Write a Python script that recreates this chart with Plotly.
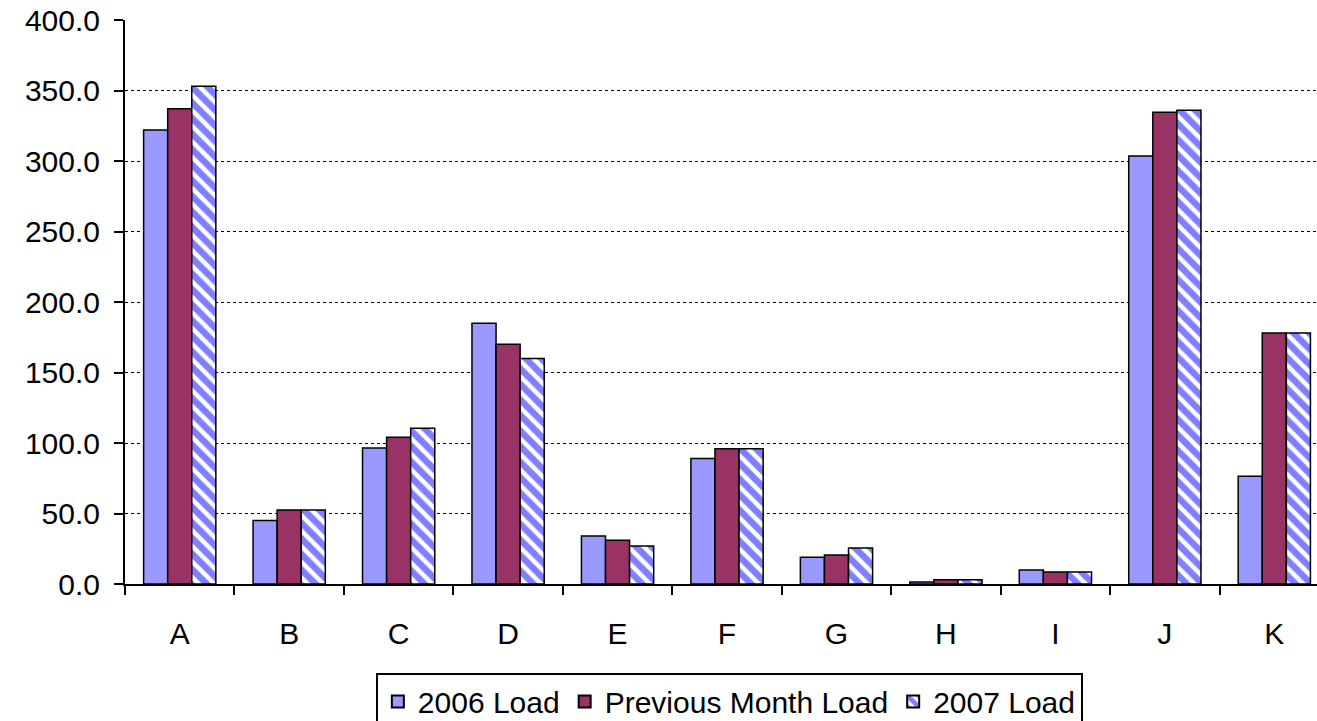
import plotly.graph_objects as go

categories = ["A", "B", "C", "D", "E", "F", "G", "H", "I", "J", "K"]
load_2006 = [322, 45, 96.5, 185, 34, 89, 19, 1.5, 10, 303.5, 76.5]
load_prev = [337, 52.5, 104, 170, 31, 96, 20.5, 3, 8.5, 334.5, 178]
load_2007 = [353, 52.5, 110.5, 160, 27, 96, 25.5, 3, 8.5, 336, 178]
y_ticks = [0, 50, 100, 150, 200, 250, 300, 350, 400]

FONT = "Liberation Sans, Arial, sans-serif"
line = dict(color="black", width=1.5)

fig = go.Figure()
fig.add_trace(go.Bar(name="2006 Load", x=categories, y=load_2006,
                     marker=dict(color="#9999FF", line=line)))
fig.add_trace(go.Bar(name="Previous Month Load", x=categories, y=load_prev,
                     marker=dict(color="#993366", line=line)))
fig.add_trace(go.Bar(name="2007 Load", x=categories, y=load_2007,
                     marker=dict(color="white", line=line,
                                 pattern=dict(shape="\\", fgcolor="#0000FF",
                                              bgcolor="white", size=11,
                                              solidity=0.6, fillmode="overlay"))))

fig.update_layout(
    width=1317, height=721,
    margin=dict(l=125, r=0, t=20, b=137, autoexpand=False),
    paper_bgcolor="white", plot_bgcolor="white",
    barmode="group", bargap=0.34, bargroupgap=0,
    font=dict(family=FONT, size=30, color="black"),
    showlegend=True,
    legend=dict(orientation="h", x=0.507, xanchor="center",
                yref="container", y=0.066, yanchor="top",
                bordercolor="black", borderwidth=2, font=dict(size=30),
                itemsizing="constant", tracegroupgap=0, itemwidth=30),
    xaxis=dict(range=[-0.5, 10.39], showline=True, linecolor="black", linewidth=2,
               ticks="outside", tickson="boundaries", ticklen=9, tickwidth=2,
               tickcolor="black", showgrid=False, ticklabelstandoff=22,
               tickfont=dict(size=30)),
    yaxis=dict(range=[0, 400], tickvals=y_ticks, tickformat=".1f",
               showline=True, linecolor="black", linewidth=2,
               ticks="outside", ticklen=9, tickwidth=1.5, tickcolor="black",
               showgrid=True, gridcolor="black", griddash="dot", gridwidth=1,
               zeroline=False, tickfont=dict(size=30), ticklabelstandoff=8),
)

fig.write_html("out.html", config={"displayModeBar": False},
               post_script="document.body.style.margin='0';document.body.style.overflow='hidden';")
